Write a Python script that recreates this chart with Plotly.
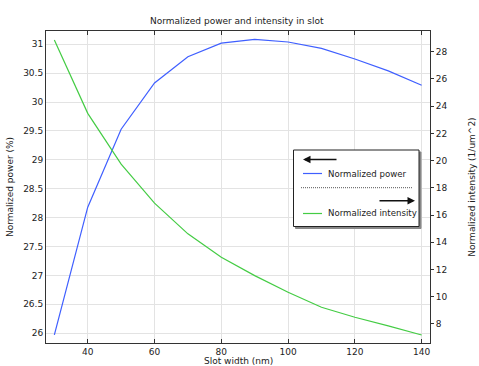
import plotly.graph_objects as go

slot_width = [30, 40, 50, 60, 70, 80, 90, 100, 110, 120, 130, 140]
norm_power = [25.97, 28.18, 29.53, 30.33, 30.785, 31.02, 31.085, 31.04, 30.93, 30.745, 30.54, 30.29]
norm_intensity = [28.86, 23.47, 19.74, 16.87, 14.62, 12.9, 11.55, 10.33, 9.23, 8.49, 7.86, 7.19]

W, H = 479, 366
L, R, T, B = 46, 430, 31, 343

def px(x):
    return (x - L) / (R - L)

def py(y):
    return (B - y) / (B - T)

FONT = "DejaVu Sans"
BLUE = "#3f5fff"
GREEN = "#44cc44"

fig = go.Figure()
fig.add_trace(go.Scatter(x=slot_width, y=norm_power, mode="lines",
                         line=dict(color=BLUE, width=1.2), name="Normalized power",
                         yaxis="y"))
fig.add_trace(go.Scatter(x=slot_width, y=norm_intensity, mode="lines",
                         line=dict(color=GREEN, width=1.2), name="Normalized intensity",
                         yaxis="y2"))

axis_common = dict(showline=True, linecolor="#333333", linewidth=1,
                   gridcolor="#e3e3e3", gridwidth=1, zeroline=False, automargin=False,
                   tickfont=dict(family=FONT, size=9, color="#222"))

fig.update_layout(
    width=W, height=H,
    margin=dict(l=L, r=W - R, t=T, b=H - B, pad=0, autoexpand=False),
    paper_bgcolor="white", plot_bgcolor="white",
    showlegend=False,
    font=dict(family=FONT, size=9, color="#222"),
    title=dict(text="Normalized power and intensity in slot", x=238 / W, xref="paper",
               xanchor="center", y=1 - 20.5 / H, yanchor="middle", automargin=False,
               font=dict(family=FONT, size=9, color="#222")),
    xaxis=dict(axis_common, range=[27.5, 142.5], tickvals=[40, 60, 80, 100, 120, 140],
               ticks="inside", ticklen=4, tickcolor="#333", mirror="ticks"),
    yaxis=dict(axis_common, range=[25.83, 31.23],
               tickvals=[26, 26.5, 27, 27.5, 28, 28.5, 29, 29.5, 30, 30.5, 31],
               ticktext=["26", "26.5", "27", "27.5", "28", "28.5", "29", "29.5", "30", "30.5", "31"],
               ticks="", mirror=True,
               title=dict(text="Normalized power (%)", standoff=8, font=dict(family=FONT, size=9))),
    yaxis2=dict(axis_common, range=[6.6, 29.52], overlaying="y", side="right",
                tickvals=[8, 10, 12, 14, 16, 18, 20, 22, 24, 26, 28],
                ticks="outside", ticklen=3, tickcolor="#333", showgrid=False,
                title=dict(text="Normalized intensity (1/um^2)", standoff=22,
                           font=dict(family=FONT, size=9))),
)

# x-axis title
fig.add_annotation(xref="paper", yref="paper", x=px(238), y=py(360.5), xanchor="center",
                   yanchor="middle", showarrow=False, text="Slot width (nm)",
                   font=dict(family=FONT, size=9, color="#222"))

# custom legend box
bx0, bx1, by0, by1 = 293.5, 419, 150, 226.5
fig.add_shape(type="rect", xref="paper", yref="paper",
              x0=px(bx0 + 2), x1=px(bx1 + 2), y0=py(by0 + 2), y1=py(by1 + 2),
              line=dict(color="#888", width=1), fillcolor="#888")
fig.add_shape(type="rect", xref="paper", yref="paper",
              x0=px(bx0), x1=px(bx1), y0=py(by0), y1=py(by1),
              line=dict(color="#222", width=1), fillcolor="white")
# left arrow
fig.add_annotation(xref="paper", yref="paper", x=px(303), y=py(159.5), ax=35, ay=0,
                   showarrow=True, arrowhead=2, arrowsize=1, arrowwidth=1.5,
                   arrowcolor="#111", text="")
# blue sample line
fig.add_shape(type="line", xref="paper", yref="paper", x0=px(303), x1=px(322),
              y0=py(173.5), y1=py(173.5), line=dict(color=BLUE, width=1.2))
fig.add_annotation(xref="paper", yref="paper", x=px(326), y=py(173.5), xanchor="left",
                   yanchor="middle", showarrow=False, text="Normalized power",
                   font=dict(family=FONT, size=8.6, color="#222"))
# dotted separator
fig.add_shape(type="line", xref="paper", yref="paper", x0=px(301), x1=px(413),
              y0=py(187.7), y1=py(187.7), line=dict(color="#555", width=1, dash="1px,1px"))
# right arrow
fig.add_annotation(xref="paper", yref="paper", x=px(415), y=py(200.7), ax=-37, ay=0,
                   showarrow=True, arrowhead=2, arrowsize=1, arrowwidth=1.5,
                   arrowcolor="#111", text="")
# green sample line
fig.add_shape(type="line", xref="paper", yref="paper", x0=px(303), x1=px(322),
              y0=py(213.5), y1=py(213.5), line=dict(color=GREEN, width=1.2))
fig.add_annotation(xref="paper", yref="paper", x=px(326), y=py(213.5), xanchor="left",
                   yanchor="middle", showarrow=False, text="Normalized intensity",
                   font=dict(family=FONT, size=8.6, color="#222"))

fig.write_html("out.html", config={"displayModeBar": False},
               post_script="document.body.style.margin='0';document.body.style.padding='0';")
